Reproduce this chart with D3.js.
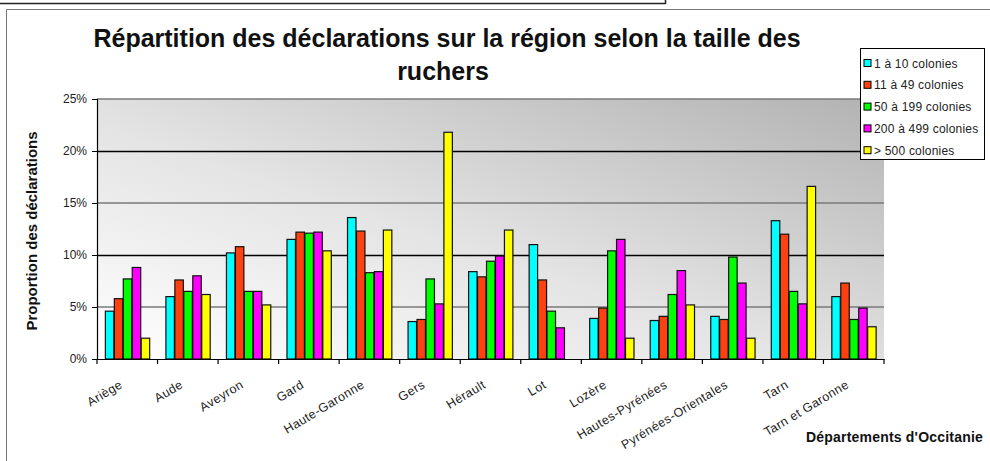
<!DOCTYPE html>
<html><head><meta charset="utf-8">
<script src="https://cdn.jsdelivr.net/npm/d3@7"></script>
<style>body{margin:0;background:#fff}svg{display:block;font-family:Arial,"Liberation Sans",sans-serif}</style>
</head><body><svg id="c" width="990" height="461"></svg>
<script>
const categories = ["Ariège","Aude","Aveyron","Gard","Haute-Garonne","Gers","Hérault","Lot","Lozère","Hautes-Pyrénées","Pyrénées-Orientales","Tarn","Tarn et Garonne"];
const seriesNames = ["1 à 10 colonies","11 à 49 colonies","50 à 199 colonies","200 à 499 colonies","> 500 colonies"];
const s1 = [4.6, 6.0, 10.2, 11.5, 13.6, 3.6, 8.4, 11.0, 3.9, 3.7, 4.1, 13.3, 6.0];
const s2 = [5.8, 7.6, 10.8, 12.2, 12.3, 3.8, 7.9, 7.6, 4.9, 4.1, 3.8, 12.0, 7.3];
const s3 = [7.7, 6.5, 6.5, 12.1, 8.3, 7.7, 9.4, 4.6, 10.4, 6.2, 9.8, 6.5, 3.8];
const s4 = [8.8, 8.0, 6.5, 12.2, 8.4, 5.3, 9.9, 3.0, 11.5, 8.5, 7.3, 5.3, 4.9];
const s5 = [2.0, 6.2, 5.2, 10.4, 12.4, 21.8, 12.4, 0, 2.0, 5.2, 2.0, 16.6, 3.1];
const yTicks = [0, 5, 10, 15, 20, 25];
const colors = ["#00ffff","#ff4010","#00ff00","#ff00ff","#ffff00"];
const series = [s1, s2, s3, s4, s5];

const svg = d3.select("#c");
const L = 97, R = 884, T = 99, B = 359;

// frames
svg.append("path").attr("d","M0,3.5H665.5V0").attr("fill","none").attr("stroke","#222").attr("stroke-width",1.5);
svg.append("path").attr("d","M6.5,461V9.5H990").attr("fill","none").attr("stroke","#777").attr("stroke-width",1);

const defs = svg.append("defs");
const g = defs.append("linearGradient").attr("id","bg").attr("x1","0").attr("y1","1").attr("x2","1").attr("y2","0");
g.append("stop").attr("offset","0").attr("stop-color","#ffffff");
g.append("stop").attr("offset","0.45").attr("stop-color","#e4e4e4");
g.append("stop").attr("offset","1").attr("stop-color","#b2b2b2");

const x = d3.scaleBand().domain(categories).range([L, R]).paddingInner(0.26).paddingOuter(0.13);
const xb = d3.scaleBand().domain(categories).range([L, R]);
const xs = d3.scaleBand().domain(d3.range(5)).range([0, x.bandwidth()]);
const y = d3.scaleLinear().domain([0, 25]).range([B, T]);

svg.append("rect").attr("x",L).attr("y",T).attr("width",R-L).attr("height",B-T).attr("fill","url(#bg)");

// gridlines
svg.append("g").selectAll("line").data(yTicks.filter(d=>d>0)).join("line")
  .attr("x1",L).attr("x2",R)
  .attr("y1",d=>Math.round(y(d))+ (d%10===0?0.5:0)).attr("y2",d=>Math.round(y(d))+(d%10===0?0.5:0))
  .attr("stroke",d=>d%10===0?"#000":"#7a7a7a").attr("stroke-width",d=>d%10===0?1.6:1.4);

// bars
const groups = svg.append("g").selectAll("g").data(categories).join("g")
  .attr("transform",d=>`translate(${x(d)},0)`);
groups.selectAll("rect").data((d,i)=>series.map((s,k)=>({k,v:s[i]})).filter(o=>o.v>0)).join("rect")
  .attr("x",o=>xs(o.k)+0.5).attr("width",xs.bandwidth()-0.5)
  .attr("y",o=>y(o.v)).attr("height",o=>B-y(o.v))
  .attr("fill",o=>colors[o.k]).attr("stroke","#111").attr("stroke-width",1.2);

// axes
const yAxis = d3.axisLeft(y).tickValues(yTicks).tickFormat(d=>d+"%").tickSize(5).tickPadding(5);
const ya = svg.append("g").attr("transform",`translate(${L},0)`).call(yAxis);
ya.select(".domain").attr("stroke","#000").attr("stroke-width",1.2);
ya.selectAll("text").attr("font-size",12).attr("fill","#222").attr("font-family","Arial,'Liberation Sans',sans-serif");

const xAxis = d3.axisBottom(xb).tickSize(0).tickFormat("");
const xa = svg.append("g").attr("transform",`translate(0,${B})`).call(xAxis);
xa.select(".domain").attr("stroke","#000").attr("stroke-width",1.2);
// category boundary ticks
svg.append("g").selectAll("line").data(categories.map(c=>xb(c)).concat([R])).join("line")
  .attr("x1",d=>d).attr("x2",d=>d).attr("y1",B).attr("y2",B+5).attr("stroke","#000").attr("stroke-width",1.2);

// x labels
svg.append("g").selectAll("text").data(categories).join("text")
  .attr("transform",d=>`translate(${xb(d)+xb.bandwidth()/2-4},${387}) rotate(-31)`)
  .attr("text-anchor","end").attr("font-size",12.5).attr("letter-spacing",0.4).attr("fill","#222").text(d=>d);

// titles
svg.append("text").attr("x",447).attr("y",47).attr("text-anchor","middle").attr("font-size",25).attr("font-weight","bold").attr("fill","#111")
  .text("Répartition des déclarations sur la région selon la taille des");
svg.append("text").attr("x",443).attr("y",80).attr("text-anchor","middle").attr("font-size",25).attr("font-weight","bold").attr("fill","#111")
  .text("ruchers");
svg.append("text").attr("transform","translate(37,231) rotate(-90)").attr("text-anchor","middle").attr("font-size",15).attr("font-weight","bold").attr("fill","#111")
  .text("Proportion des déclarations");
svg.append("text").attr("x",806).attr("y",442).attr("font-size",14).attr("font-weight","bold").attr("letter-spacing",0.2).attr("fill","#111")
  .text("Départements d'Occitanie");

// legend
const lg = svg.append("g");
lg.append("rect").attr("x",860.5).attr("y",48.5).attr("width",124).attr("height",111).attr("fill","#fff").attr("stroke","#000").attr("stroke-width",1);
const items = lg.selectAll("g").data(seriesNames).join("g").attr("transform",(d,i)=>`translate(864,${63+i*21.8})`);
items.append("rect").attr("x",0).attr("y",-3.5).attr("width",7).attr("height",7).attr("fill",(d,i)=>colors[i]).attr("stroke","#000").attr("stroke-width",1);
items.append("text").attr("x",10).attr("y",4.5).attr("font-size",12).attr("letter-spacing",0.2).attr("fill","#222").text(d=>d);
</script></body></html>
